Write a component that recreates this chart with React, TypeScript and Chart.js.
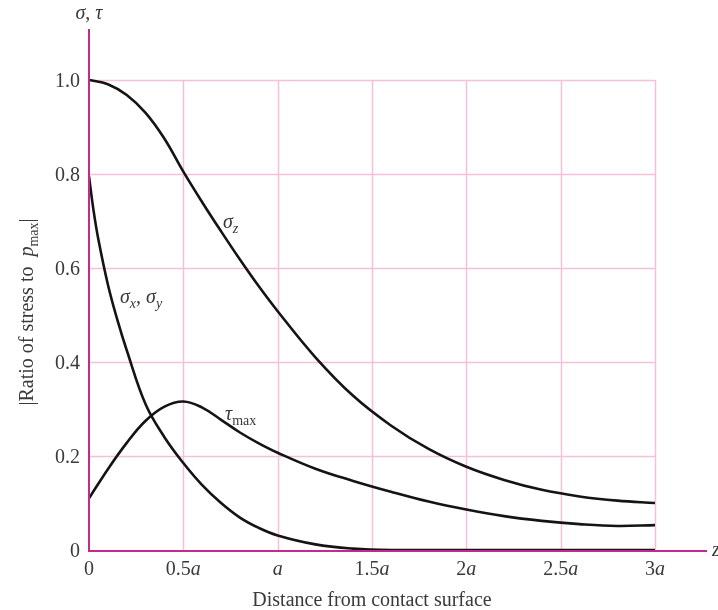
import React, { useEffect, useRef } from "react";
import { Chart, registerables } from "chart.js";

Chart.register(...registerables);

// Distances (in units of a)
const distances = [0, 0.1, 0.2, 0.3, 0.4, 0.5, 0.6, 0.7, 0.8, 0.9, 1.0, 1.2, 1.4, 1.6, 1.8, 2.0, 2.2, 2.4, 2.6, 2.8, 3.0];
const sigmaZ = [1.0, 0.991, 0.968, 0.93, 0.875, 0.805, 0.74, 0.678, 0.618, 0.561, 0.508, 0.41, 0.328, 0.265, 0.215, 0.177, 0.149, 0.128, 0.114, 0.105, 0.1];
const tauMax = [0.11, 0.172, 0.228, 0.275, 0.305, 0.316, 0.303, 0.277, 0.25, 0.227, 0.207, 0.173, 0.147, 0.124, 0.103, 0.086, 0.072, 0.062, 0.055, 0.051, 0.053];
const sigmaXDistances = [0, 0.025, 0.05, 0.1, 0.15, 0.2, 0.3, 0.4, 0.5, 0.6, 0.7, 0.8, 0.9, 1.0, 1.2, 1.4, 1.6, 2.0, 2.5, 3.0];
const sigmaXY = [0.795, 0.72, 0.66, 0.565, 0.49, 0.425, 0.31, 0.24, 0.185, 0.138, 0.1, 0.069, 0.047, 0.031, 0.012, 0.003, 0, 0, 0, 0];

const xTickValues = [0, 0.5, 1, 1.5, 2, 2.5, 3];
const xTickLabels = [["0", ""], ["0.5", "a"], ["", "a"], ["1.5", "a"], ["2", "a"], ["2.5", "a"], ["3", "a"]];
const yTickValues = [0, 0.2, 0.4, 0.6, 0.8, 1.0];
const yTickLabels = ["0", "0.2", "0.4", "0.6", "0.8", "1.0"];

const X_MAX = 3.2756;
const Y_MAX = 1.1085;
const GRID_X_MAX = 3;
const GRID_Y_MAX = 1.0;

const SERIF = '"Liberation Serif", "Times New Roman", serif';
const AXIS_COLOR = "#c42a8c";
const GRID_COLOR = "#f6bfdc";
const TEXT_COLOR = "#3a3a3a";

type Part = { t: string; i?: boolean; sub?: boolean };

function font(p: Part, size: number) {
  const s = p.sub ? Math.round(size * 0.68) : size;
  return `${p.i ? "italic " : ""}${s}px ${SERIF}`;
}

function richWidth(ctx: CanvasRenderingContext2D, parts: Part[], size: number) {
  let w = 0;
  for (const p of parts) {
    ctx.font = font(p, size);
    w += ctx.measureText(p.t).width;
  }
  return w;
}

function drawRich(ctx: CanvasRenderingContext2D, parts: Part[], x: number, y: number, size: number, align: "left" | "center" | "right") {
  const w = richWidth(ctx, parts, size);
  let cx = align === "left" ? x : align === "center" ? x - w / 2 : x - w;
  ctx.textAlign = "left";
  ctx.textBaseline = "alphabetic";
  for (const p of parts) {
    ctx.font = font(p, size);
    ctx.fillText(p.t, cx, p.sub ? y + size * 0.25 : y);
    cx += ctx.measureText(p.t).width;
  }
}

const decorPlugin = {
  id: "decor",
  beforeDatasetsDraw(chart: any) {
    const ctx: CanvasRenderingContext2D = chart.ctx;
    const xs = chart.scales.x;
    const ys = chart.scales.y;
    ctx.save();
    ctx.strokeStyle = GRID_COLOR;
    ctx.lineWidth = 1.5;
    const x0 = xs.getPixelForValue(0);
    const x3 = xs.getPixelForValue(GRID_X_MAX);
    const y0 = ys.getPixelForValue(0);
    const y1 = ys.getPixelForValue(GRID_Y_MAX);
    for (const v of xTickValues) {
      if (v === 0) continue;
      const px = Math.round(xs.getPixelForValue(v)) + 0.5;
      ctx.beginPath();
      ctx.moveTo(px, y0);
      ctx.lineTo(px, y1);
      ctx.stroke();
    }
    for (const v of yTickValues) {
      if (v === 0) continue;
      const py = Math.round(ys.getPixelForValue(v)) + 0.5;
      ctx.beginPath();
      ctx.moveTo(x0, py);
      ctx.lineTo(x3, py);
      ctx.stroke();
    }
    ctx.restore();
  },
  afterDatasetsDraw(chart: any) {
    const ctx: CanvasRenderingContext2D = chart.ctx;
    const xs = chart.scales.x;
    const ys = chart.scales.y;
    const area = chart.chartArea;
    ctx.save();
    // axes
    ctx.strokeStyle = AXIS_COLOR;
    ctx.lineWidth = 2;
    const x0 = xs.getPixelForValue(0);
    const y0 = ys.getPixelForValue(0);
    ctx.beginPath();
    ctx.moveTo(x0, area.top);
    ctx.lineTo(x0, y0 + 1);
    ctx.lineTo(area.right, y0 + 1);
    ctx.stroke();

    ctx.fillStyle = TEXT_COLOR;
    // y tick labels
    ctx.font = `20px ${SERIF}`;
    ctx.textAlign = "right";
    ctx.textBaseline = "alphabetic";
    yTickValues.forEach((v, i) => {
      const py = ys.getPixelForValue(v);
      ctx.fillText(yTickLabels[i], x0 - 9, py + 7);
    });
    // x tick labels
    xTickValues.forEach((v, i) => {
      const px = xs.getPixelForValue(v);
      const [num, unit] = xTickLabels[i];
      const parts: Part[] = [];
      if (num) parts.push({ t: num });
      if (unit) parts.push({ t: unit, i: true });
      drawRich(ctx, parts, px, y0 + 25, 20, "center");
    });
    // x axis title
    drawRich(ctx, [{ t: "Distance from contact surface" }], (area.left + xs.getPixelForValue(GRID_X_MAX)) / 2, 606, 20, "center");
    // z at end of x axis
    drawRich(ctx, [{ t: "z", i: true }], area.right + 5, y0 + 6, 20, "left");
    // top y label
    drawRich(ctx, [{ t: "σ", i: true }, { t: ", " }, { t: "τ", i: true }], x0, 19, 20, "center");
    // y axis title (rotated)
    ctx.save();
    ctx.translate(33, 312);
    ctx.rotate(-Math.PI / 2);
    drawRich(ctx, [{ t: "|Ratio of stress to  " }, { t: "p", i: true }, { t: "max", sub: true }, { t: "|" }], 0, 0, 20, "center");
    ctx.restore();
    // curve labels
    drawRich(ctx, [{ t: "σ", i: true }, { t: "z", i: true, sub: true }], 223, 228, 20, "left");
    drawRich(ctx, [{ t: "σ", i: true }, { t: "x", i: true, sub: true }, { t: ", " }, { t: "σ", i: true }, { t: "y", i: true, sub: true }], 120, 303, 20, "left");
    drawRich(ctx, [{ t: "τ", i: true }, { t: "max", sub: true }], 225, 420, 20, "left");
    ctx.restore();
  },
};

export default function App() {
  const ref = useRef<HTMLCanvasElement | null>(null);
  useEffect(() => {
    if (!ref.current) return;
    const mk = (xsArr: number[], ysArr: number[]) => xsArr.map((x, i) => ({ x, y: ysArr[i] }));
    const common = {
      borderColor: "#141414",
      borderWidth: 2.6,
      pointRadius: 0,
      fill: false,
      tension: 0.4,
    };
    const chart = new Chart(ref.current, {
      type: "line",
      data: {
        datasets: [
          { label: "σz", data: mk(distances, sigmaZ), ...common },
          { label: "τmax", data: mk(distances, tauMax), ...common },
          { label: "σx, σy", data: mk(sigmaXDistances, sigmaXY), ...common },
        ],
      },
      options: {
        responsive: false,
        animation: false,
        devicePixelRatio: 1,
        layout: { padding: { left: 89, right: 11, top: 29, bottom: 60 } },
        scales: {
          x: { type: "linear", min: 0, max: X_MAX, display: false },
          y: { type: "linear", min: 0, max: Y_MAX, display: false },
        },
        plugins: { legend: { display: false }, tooltip: { enabled: false } },
      },
      plugins: [decorPlugin],
    });
    return () => chart.destroy();
  }, []);
  return (
    <div style={{ position: "fixed", left: 0, top: 0, width: 718, height: 610, background: "#fff" }}>
      <canvas ref={ref} width={718} height={610} style={{ display: "block" }} />
    </div>
  );
}
